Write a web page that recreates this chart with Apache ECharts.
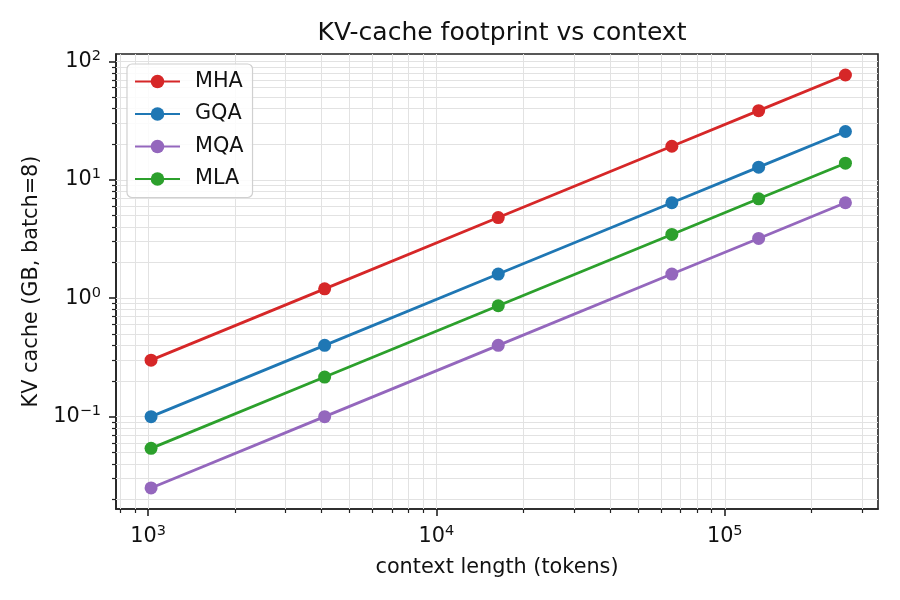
<!DOCTYPE html>
<html>
<head>
<meta charset="utf-8">
<script src="https://cdn.jsdelivr.net/npm/echarts@6/dist/echarts.min.js"></script>
<style>
  html, body { margin: 0; padding: 0; background: #fff; }
  #chart { width: 900px; height: 600px; }
</style>
</head>
<body>
<div id="chart"></div>
<script>
// context lengths (tokens)
var contextLengths = [1024, 4096, 16384, 65536, 131072, 262144];

// KV cache in GB, batch=8
var mhaValues = [0.3, 1.2, 4.8, 19.2, 38.4, 76.8];
var gqaValues = [0.1, 0.4, 1.6, 6.4, 12.8, 25.6];
var mqaValues = [0.025, 0.1, 0.4, 1.6, 3.2, 6.4];
var mlaValues = [0.054, 0.216, 0.864, 3.456, 6.912, 13.82];

// tick values
var xMajorTicks = [1000, 10000, 100000];
var xMinorTicks = [800, 900, 2000, 3000, 4000, 5000, 6000, 7000, 8000, 9000,
  20000, 30000, 40000, 50000, 60000, 70000, 80000, 90000, 200000, 300000];
var yMajorTicks = [0.1, 1, 10, 100];
var yMinorTicks = [0.02, 0.03, 0.04, 0.05, 0.06, 0.07, 0.08, 0.09,
  0.2, 0.3, 0.4, 0.5, 0.6, 0.7, 0.8, 0.9,
  2, 3, 4, 5, 6, 7, 8, 9,
  20, 30, 40, 50, 60, 70, 80, 90];

var FONT = '"DejaVu Sans", sans-serif';
var xMin = 774, xMax = 340000;
var yMin = 0.0166, yMax = 115.5;

function zip(xs, ys) {
  return xs.map(function (x, i) { return [x, ys[i]]; });
}

// 10^n label with superscript
function powLabel(v) {
  var e = Math.round(Math.log(v) / Math.LN10);
  var s = e < 0 ? '\u2212' + (-e) : String(e);
  return '{b|10}{s|' + s + '}';
}
var powRich = {
  b: { fontFamily: FONT, fontSize: 20.8, color: '#111' },
  s: { fontFamily: FONT, fontSize: 14.5, color: '#111', padding: [0, 0, 11, 0] }
};

function lineSeries(name, values, color) {
  return {
    name: name,
    type: 'line',
    data: zip(contextLengths, values),
    symbol: 'circle',
    symbolSize: 13,
    lineStyle: { width: 2.8, color: color },
    itemStyle: { color: color },
    z: 5
  };
}

var gridLines = [];
xMajorTicks.concat(xMinorTicks).forEach(function (v) { gridLines.push({ xAxis: v }); });
yMajorTicks.concat(yMinorTicks).forEach(function (v) { gridLines.push({ yAxis: v }); });

var chart = echarts.init(document.getElementById('chart'), null, { renderer: 'canvas' });

var axisBase = {
  type: 'log',
  logBase: 10,
  gridIndex: 0,
  splitLine: { show: false },
  minorTick: { show: false },
  minorSplitLine: { show: false }
};

chart.setOption({
  animation: false,
  backgroundColor: '#fff',
  title: {
    text: 'KV-cache footprint vs context',
    left: 497,
    textAlign: 'center',
    top: 16,
    textStyle: { fontFamily: FONT, fontSize: 25, fontWeight: 'normal', color: '#111' }
  },
  grid: {
    left: 116, right: 22, top: 54, bottom: 91,
    show: true, borderColor: '#222', borderWidth: 1.6,
    backgroundColor: 'transparent'
  },
  legend: {
    left: 127, top: 64,
    orient: 'vertical',
    itemGap: 11.5,
    itemWidth: 45, itemHeight: 17,
    padding: [7, 9, 8, 7],
    borderColor: '#d0d0d0', borderWidth: 1.2, borderRadius: 5,
    backgroundColor: 'rgba(255,255,255,0.85)',
    textStyle: { fontFamily: FONT, fontSize: 20.8, color: '#111', padding: [0, 0, 0, 10] },
    data: ['MHA', 'GQA', 'MQA', 'MLA']
  },
  xAxis: [
    Object.assign({}, axisBase, {
      min: xMin, max: xMax,
      position: 'bottom',
      name: 'context length (tokens)',
      nameLocation: 'middle',
      nameGap: 48,
      nameTextStyle: { fontFamily: FONT, fontSize: 20.8, color: '#111' },
      axisLine: { show: true, lineStyle: { color: '#222', width: 1.6 } },
      axisTick: { show: true, length: 7, customValues: xMajorTicks, lineStyle: { color: '#222', width: 1.6 } },
      axisLabel: { show: true, customValues: xMajorTicks, margin: 15, formatter: powLabel, rich: powRich }
    }),
    Object.assign({}, axisBase, {
      min: xMin, max: xMax,
      position: 'bottom',
      axisLine: { show: false },
      axisTick: { show: true, length: 4, customValues: xMinorTicks, lineStyle: { color: '#222', width: 1.2 } },
      axisLabel: { show: false }
    })
  ],
  yAxis: [
    Object.assign({}, axisBase, {
      min: yMin, max: yMax,
      position: 'left',
      name: 'KV cache (GB, batch=8)',
      nameLocation: 'middle',
      nameGap: 62,
      nameTextStyle: { fontFamily: FONT, fontSize: 20.8, color: '#111' },
      axisLine: { show: true, lineStyle: { color: '#222', width: 1.6 } },
      axisTick: { show: true, length: 7, customValues: yMajorTicks, lineStyle: { color: '#222', width: 1.6 } },
      axisLabel: { show: true, customValues: yMajorTicks, margin: 15, formatter: powLabel, rich: powRich }
    }),
    Object.assign({}, axisBase, {
      min: yMin, max: yMax,
      position: 'left',
      axisLine: { show: false },
      axisTick: { show: true, length: 4, customValues: yMinorTicks, lineStyle: { color: '#222', width: 1.2 } },
      axisLabel: { show: false }
    })
  ],
  series: [
    {
      name: 'grid',
      type: 'line',
      data: [],
      silent: true,
      z: 1,
      markLine: {
        silent: true,
        z: 1,
        symbol: 'none',
        label: { show: false },
        lineStyle: { color: '#e2e2e2', width: 1, type: 'solid' },
        emphasis: { disabled: true },
        data: gridLines
      }
    },
    lineSeries('MHA', mhaValues, '#d62728'),
    lineSeries('GQA', gqaValues, '#1f77b4'),
    lineSeries('MQA', mqaValues, '#9467bd'),
    lineSeries('MLA', mlaValues, '#2ca02c')
  ]
});
</script>
</body>
</html>
